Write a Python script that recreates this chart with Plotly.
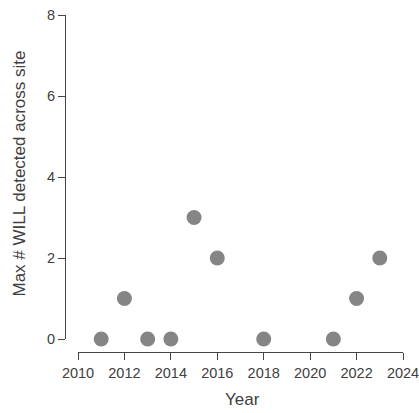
import plotly.graph_objects as go

years = [2011, 2012, 2013, 2014, 2015, 2016, 2018, 2021, 2022, 2023]
max_will = [0, 1, 0, 0, 3, 2, 0, 0, 1, 2]
x_ticks = [2010, 2012, 2014, 2016, 2018, 2020, 2022, 2024]
y_ticks = [0, 2, 4, 6, 8]

W, H = 419, 413
yaxis_x = 65
xaxis_y = 352
x0_px, x1_px = 78, 403
y8_px, y0_px = 15, 339

L, R, T, B = yaxis_x, W - x1_px, y8_px, H - xaxis_y
pw, ph = W - L - R, H - T - B

fig = go.Figure()
fig.add_trace(go.Scatter(
    x=years, y=max_will, mode="markers",
    marker=dict(size=15, color="#858585", line=dict(width=0)),
    cliponaxis=False, showlegend=False, hoverinfo="skip",
))

fam = "Liberation Sans, Arial, sans-serif"
axis_font = dict(family=fam, size=14.5, color="#404040")
title_font = dict(family=fam, size=17, color="#404040")
fig.update_layout(
    width=W, height=H,
    margin=dict(l=L, r=R, t=T, b=B, autoexpand=False),
    paper_bgcolor="white", plot_bgcolor="white",
    xaxis=dict(
        range=[2010, 2024], domain=[(x0_px - L) / pw, 1],
        anchor="free", position=0, automargin=False,
        tickvals=x_ticks, ticks="outside", ticklen=7, tickwidth=1, tickcolor="#444",
        ticklabelstandoff=1, ticklabeloverflow="allow",
        showline=True, linecolor="#444", linewidth=1,
        showgrid=False, zeroline=False, tickfont=axis_font,
    ),
    yaxis=dict(
        range=[0, 8], domain=[(xaxis_y - y0_px) / ph, 1],
        anchor="free", position=0, automargin=False,
        tickvals=y_ticks, ticks="outside", ticklen=7, tickwidth=1, tickcolor="#444",
        ticklabeloverflow="allow",
        showline=True, linecolor="#444", linewidth=1,
        showgrid=False, zeroline=False, tickfont=axis_font,
    ),
    annotations=[
        dict(text="Year", xref="paper", yref="paper",
             x=(242 - L) / pw, y=-(399 - xaxis_y) / ph, showarrow=False,
             xanchor="center", yanchor="middle", font=title_font),
        dict(text="Max # WILL detected across site", xref="paper", yref="paper",
             x=-(L - 18.5) / pw, y=(xaxis_y - 174) / ph, showarrow=False,
             textangle=-90, xanchor="center", yanchor="middle", font=title_font),
    ],
)

fig.write_html(
    "out.html",
    config={"displayModeBar": False},
    post_script="document.body.style.margin='0';document.body.style.overflow='hidden';",
)
